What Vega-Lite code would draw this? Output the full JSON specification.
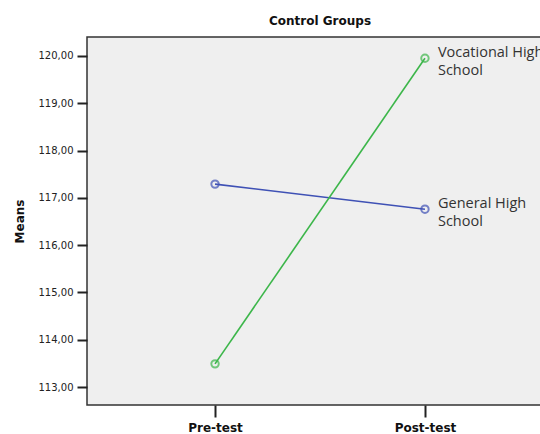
{
  "$schema": "https://vega.github.io/schema/vega-lite/v6.json",
  "width": 466,
  "height": 368,
  "padding": {"left": 13, "top": 15, "right": 0, "bottom": 0},
  "background": "white",
  "title": {"text": "Control Groups", "font": "DejaVu Sans", "fontSize": 12, "fontWeight": "bold", "color": "#111", "offset": 9, "anchor": "middle"},
  "config": {
    "view": {"fill": "#efefef", "stroke": "#333", "strokeWidth": 1.5},
    "axis": {"grid": false, "domain": false, "tickColor": "#222", "tickWidth": 2}
  },
  "data": {
    "values": [
      {"test": "Pre-test", "group": "General High School", "mean": 117.29, "label": "General High\nSchool"},
      {"test": "Post-test", "group": "General High School", "mean": 116.76, "label": "General High\nSchool"},
      {"test": "Pre-test", "group": "Vocational High School", "mean": 113.49, "label": "Vocational High\nSchool"},
      {"test": "Post-test", "group": "Vocational High School", "mean": 119.95, "label": "Vocational High\nSchool"}
    ]
  },
  "encoding": {
    "x": {
      "field": "test", "type": "nominal", "sort": ["Pre-test", "Post-test"],
      "scale": {"type": "point", "padding": 0.61},
      "axis": {"title": null, "labelAngle": 0, "labelFont": "DejaVu Sans", "labelFontSize": 12, "labelFontWeight": "bold", "labelColor": "#111", "tickSize": 12, "labelPadding": 5}
    },
    "y": {
      "field": "mean", "type": "quantitative",
      "scale": {"domain": [112.62, 120.4], "nice": false, "zero": false},
      "axis": {"title": "Means", "titleFont": "DejaVu Sans", "titleFontSize": 12, "titleFontWeight": "bold", "titleColor": "#111", "titlePadding": 12,
        "values": [113, 114, 115, 116, 117, 118, 119, 120],
        "labelExpr": "replace(format(datum.value, '.2f'), '.', ',')",
        "labelFont": "DejaVu Sans", "labelFontSize": 10, "labelColor": "#222", "tickSize": 10, "labelPadding": 4}
    },
    "color": {
      "field": "group", "type": "nominal",
      "scale": {"domain": ["General High School", "Vocational High School"], "range": ["#3f51b5", "#3cb64a"]},
      "legend": null
    }
  },
  "layer": [
    {"mark": {"type": "line", "strokeWidth": 1.6}},
    {"mark": {"type": "point", "shape": "circle", "filled": false, "size": 55, "strokeWidth": 2}},
    {
      "transform": [{"filter": "datum.test === 'Post-test'"}],
      "mark": {"type": "text", "align": "left", "baseline": "middle", "dx": 13, "dy": -5, "lineBreak": "\n", "lineHeight": 18, "font": "Open Sans", "fontSize": 14.5, "color": "#333"},
      "encoding": {"text": {"field": "label"}, "color": {"value": "#333"}}
    }
  ]
}
